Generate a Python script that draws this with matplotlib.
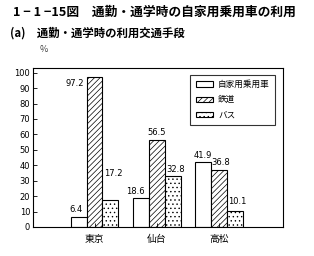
import matplotlib.pyplot as plt
import numpy as np

plt.rcParams['font.family'] = ['Noto Sans CJK JP', 'DejaVu Sans']
plt.rcParams['hatch.linewidth'] = 0.5

cities = ["東京", "仙台", "高松"]
car = [6.4, 18.6, 41.9]
rail = [97.2, 56.5, 36.8]
bus = [17.2, 32.8, 10.1]
series = [("自家用乗用車", car, ""), ("鉄道", rail, "//////"), ("バス", bus, "....")]

# label offsets (points) per series, per city, to mimic the original placement
offsets = [
    [(-2, 2), (-4, 2), (0, 2)],
    [(-14, -8), (0, 2), (1, 2)],
    [(2, 16), (2, 2), (2, 4)],
]

fig = plt.figure(figsize=(3.14, 2.56), dpi=100)
ax = fig.add_axes([33 / 314, 1 - 227 / 256, 250 / 314, 159 / 256])

x = np.arange(len(cities))
w = 0.255
for i, (name, vals, hatch) in enumerate(series):
    pos = x + (i - 1) * w
    ax.bar(pos, vals, w, facecolor="white", edgecolor="black", lw=0.8,
           hatch=hatch, label=name)
    for j, (p, v) in enumerate(zip(pos, vals)):
        ax.annotate(f"{v}", (p, v), xytext=offsets[i][j], textcoords="offset points",
                    ha="center", va="bottom", fontsize=6, family="DejaVu Sans")

ax.set_xlim(-0.99, 3.03)
ax.set_ylim(0, 103)
ax.set_yticks(range(0, 101, 10))
ax.set_yticklabels([str(v) for v in range(0, 101, 10)], fontsize=6,
                   family="DejaVu Sans")
ax.set_xticks(x)
ax.set_xticklabels(cities, fontsize=7)
ax.tick_params(axis="y", direction="in", length=3, width=0.6, pad=2)
ax.tick_params(axis="x", direction="in", length=3, width=0.6, pad=5)
for s in ax.spines.values():
    s.set_linewidth(0.8)

leg = ax.legend(loc="upper right", fontsize=6.2, frameon=True, fancybox=False,
                edgecolor="black", handlelength=2.0, handleheight=0.6,
                handletextpad=0.6, borderpad=0.6, labelspacing=0.75,
                bbox_to_anchor=(0.985, 0.985))
leg.get_frame().set_linewidth(0.8)

fig.text(13 / 314, 1 - 12 / 256, "1 − 1 −15図　通勤・通学時の自家用乗用車の利用",
         fontsize=9.2, va="center", ha="left", fontweight="bold")
fig.text(10 / 314, 1 - 33 / 256, "(a)　通勤・通学時の利用交通手段",
         fontsize=8.2, va="center", ha="left", fontweight="bold")
fig.text(40 / 314, 1 - 50 / 256, "%", fontsize=6.5, va="center", ha="left",
         color="#444444")

fig.savefig("out.png", dpi=100)
